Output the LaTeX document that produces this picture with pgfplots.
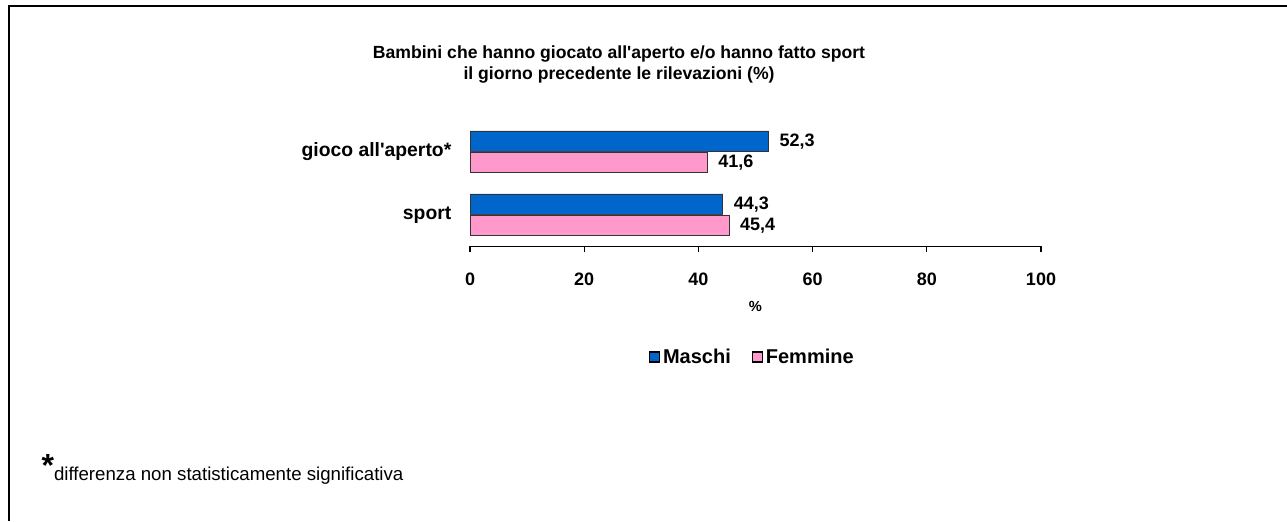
\documentclass[border=0pt]{standalone}
\usepackage{fontspec}
\setmainfont{Liberation Sans}
\usepackage{pgfplots}
\pgfplotsset{compat=1.18}
\definecolor{mblue}{RGB}{0,102,204}
\definecolor{fpink}{RGB}{255,153,204}
\begin{document}
\begin{tikzpicture}
\path[use as bounding box] (0pt,0pt) rectangle (965.25pt,390.75pt);
\draw[line width=1.5pt] (6.4pt,0pt) -- (6.4pt,386.6pt) -- (965.25pt,386.6pt);
\node[align=center, font=\bfseries\fontsize{13.2}{15.9}\selectfont] at (464.25pt,342.2pt)
  {Bambini che hanno giocato all\textquotesingle aperto e/o hanno fatto sport\\il giorno precedente le rilevazioni (\%)};
\begin{axis}[
  at={(352.5pt,205.9pt)}, anchor=south west,
  scale only axis, width=428.25pt, height=94.5pt,
  xbar, bar width=0.333,
  xmin=0, xmax=100, ymin=-0.5, ymax=1.5,
  axis lines*=left,
  y axis line style={draw=none},
  x axis line style={line width=0.9pt},
  xtick={0,20,40,60,80,100},
  ytick={0,1}, yticklabels={sport,gioco all\textquotesingle aperto*},
  ytick style={draw=none},
  xtick align=outside, major tick length=4.5pt,
  xtick style={line width=0.9pt, black},
  /pgf/number format/assume math mode=true,
  xticklabel style={font=\bfseries\fontsize{13.5}{15}\selectfont, yshift=-11.5pt},
  yticklabel style={font=\bfseries\fontsize{14.5}{16}\selectfont, xshift=-6pt},
  xlabel={\%},
  xlabel style={font=\bfseries\fontsize{11}{13}\selectfont, at={(axis description cs:0.5,-0.475)}, anchor=center},
  point meta=x,
  nodes near coords={\pgfmathprintnumber[fixed,fixed zerofill,precision=1,use comma,assume math mode=true]{\pgfplotspointmeta}},
  nodes near coords style={anchor=west, font=\bfseries\fontsize{13.5}{15}\selectfont, xshift=4.5pt},
  legend style={at={(0.3135,-0.877)}, anchor=west, draw=none, fill=none, inner sep=0pt,
    legend columns=2, font=\bfseries\fontsize{15}{17}\selectfont,
    /tikz/every even column/.append style={column sep=14pt}},
  legend image code/.code={\draw[#1,draw=black,line width=0.8pt] (0pt,-3.75pt) rectangle (7.5pt,3.75pt);},
]
\addplot[fill=mblue, draw=black!80, line width=0.7pt, bar shift=0.1667] coordinates {(44.3,0) (52.3,1)};
\addplot[fill=fpink, draw=black!80, line width=0.7pt, bar shift=-0.1667] coordinates {(45.4,0) (41.6,1)};
\legend{Maschi,Femmine}
\end{axis}
\node[anchor=base west, font=\fontsize{14}{16}\selectfont, inner sep=0pt] at (31pt,30.5pt) {\raisebox{3pt}{\bfseries\fontsize{24}{24}\selectfont *}differenza non statisticamente significativa};
\end{tikzpicture}
\end{document}
